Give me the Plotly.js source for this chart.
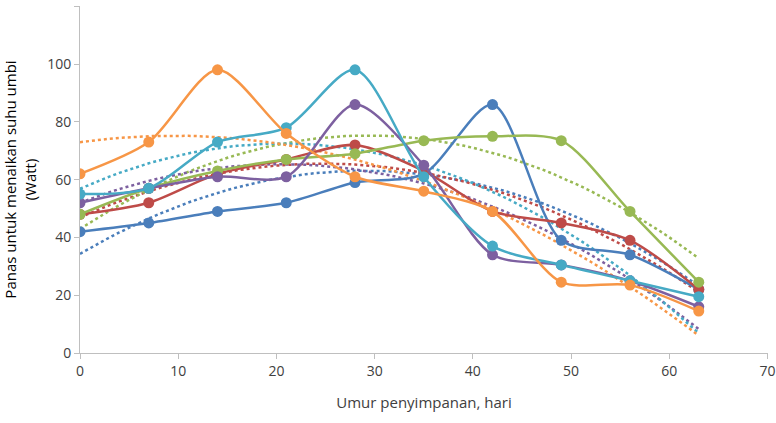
<!DOCTYPE html>
<html><head><meta charset="utf-8">
<script src="https://cdn.plot.ly/plotly-3.0.1.min.js"></script>
<style>body{margin:0}#chart{width:776px;height:423px}</style>
</head><body><div id="chart"></div>
<script>
const days = [0, 7, 14, 21, 28, 35, 42, 49, 56, 63];
const blue = [42, 45, 49, 52, 59, 62, 86, 39, 34, 22];
const red = [48, 52, 62, 67, 72, 63, 49, 45, 39, 22];
const green = [48, 57, 63, 67, 69, 73.5, 75, 73.5, 49, 24.5];
const purple = [52, 57, 61, 61, 86, 65, 34, 30.5, 25, 16];
const cyan = [55, 57, 73, 78, 98, 61, 37, 30.5, 25, 19.5];
const orange = [62, 73, 98, 76, 61, 56, 49, 24.5, 23.5, 14.5];

const seriesList = [
  {y: blue, color: '#4A7EBB'},
  {y: red, color: '#BE4B48'},
  {y: green, color: '#98B954'},
  {y: purple, color: '#7D60A0'},
  {y: cyan, color: '#46AAC5'},
  {y: orange, color: '#F79646'}
];

// quadratic least-squares trendline, like Excel's polynomial order 2
function quadFit(xs, ys) {
  let s = [0,0,0,0,0], t = [0,0,0];
  xs.forEach((x, i) => {
    for (let k = 0; k < 5; k++) s[k] += Math.pow(x, k);
    for (let k = 0; k < 3; k++) t[k] += Math.pow(x, k) * ys[i];
  });
  const A = [[s[0], s[1], s[2], t[0]], [s[1], s[2], s[3], t[1]], [s[2], s[3], s[4], t[2]]];
  for (let i = 0; i < 3; i++) {
    for (let j = i + 1; j < 3; j++) {
      const f = A[j][i] / A[i][i];
      for (let k = i; k < 4; k++) A[j][k] -= f * A[i][k];
    }
  }
  const c = [0, 0, 0];
  for (let i = 2; i >= 0; i--) {
    let v = A[i][3];
    for (let k = i + 1; k < 3; k++) v -= A[i][k] * c[k];
    c[i] = v / A[i][i];
  }
  return x => c[0] + c[1] * x + c[2] * x * x;
}

const fineX = [];
for (let x = 0; x <= 63; x += 1) fineX.push(x);

const traces = [];
seriesList.forEach(s => {
  const f = quadFit(days, s.y);
  traces.push({x: fineX, y: fineX.map(f), mode: 'lines', type: 'scatter',
    line: {color: s.color, width: 2.5, dash: 'dot'}, hoverinfo: 'skip'});
});
seriesList.forEach(s => {
  traces.push({x: days, y: s.y, mode: 'lines+markers', type: 'scatter',
    line: {color: s.color, width: 2.5, shape: 'spline', smoothing: 0.8},
    marker: {color: s.color, size: 11}});
});

const layout = {
  width: 776, height: 423,
  paper_bgcolor: 'white', plot_bgcolor: 'white',
  margin: {l: 80, r: 8, t: 6, b: 70},
  showlegend: false,
  font: {family: 'Open Sans', color: '#404040'},
  xaxis: {
    range: [0, 70.05], tickvals: [0, 10, 20, 30, 40, 50, 60, 70], showgrid: false, zeroline: false,
    showline: true, linecolor: '#bfbfbf', ticks: 'outside', tickcolor: '#bfbfbf', ticklen: 5,
    tickfont: {size: 14},
    title: {text: 'Umur penyimpanan, hari', font: {size: 15}, standoff: 18}
  },
  yaxis: {
    range: [0, 120.1], tickvals: [0, 20, 40, 60, 80, 100, 120], showgrid: false, zeroline: false,
    showline: true, linecolor: '#bfbfbf', ticks: 'outside', tickcolor: '#bfbfbf', ticklen: 5,
    tickfont: {size: 14},
    title: {text: 'Panas untuk menaikan suhu umbi<br>(Watt)', font: {size: 15, color: '#000'}, standoff: 12}
  }
};

Plotly.newPlot('chart', traces, layout, {displayModeBar: false});
</script></body></html>
